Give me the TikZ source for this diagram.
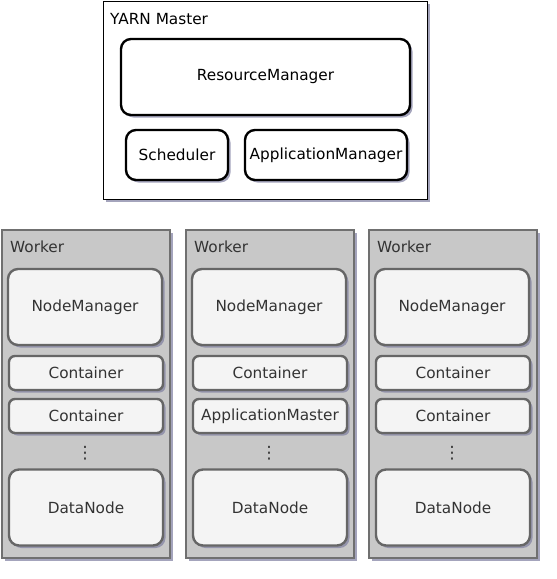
\documentclass[tikz,border=0pt]{standalone}
\usepackage{fontspec}
\setmainfont{DejaVu Sans}
\usepackage{xcolor}
\usepackage{tikz}
\usetikzlibrary{shadows}
\usetikzlibrary{shapes,positioning}

\definecolor{workergray}{HTML}{C8C8C8}
\definecolor{workerline}{HTML}{707070}
\definecolor{boxline}{HTML}{666666}
\definecolor{boxfill}{HTML}{F4F4F4}
\definecolor{textgray}{HTML}{333333}
\definecolor{shadowblue}{HTML}{7E7EA0}

\tikzset{
    yshadow/.style={drop shadow={shadow xshift=2.5pt, shadow yshift=-2.5pt, fill=shadowblue, opacity=.7}},
    masterbox/.style={draw=black, line width=1.3pt, fill=white, yshadow},
    masterpart/.style={draw=black, line width=2.4pt, fill=white, rounded corners=10pt,
        yshadow, font=\fontsize{15.3}{18}\selectfont},
    workerbox/.style={draw=workerline, line width=1.3pt, fill=workergray, yshadow,
        minimum width=168pt, minimum height=328pt},
    workerbig/.style={draw=boxline, line width=2.4pt, fill=boxfill, rounded corners=10pt,
        yshadow, text=textgray, minimum width=154pt, minimum height=76pt,
        font=\fontsize{15.3}{18}\selectfont},
    workersmall/.style={draw=boxline, line width=2.4pt, fill=boxfill, rounded corners=6pt,
        yshadow, text=textgray, minimum width=154pt, minimum height=34pt, inner sep=0pt,
        font=\fontsize{15.3}{18}\selectfont},
    boxtitle/.style={anchor=west, inner sep=0pt, font=\fontsize{15.3}{18}\selectfont},
}

\begin{document}
\begin{tikzpicture}[x=1pt, y=-1pt]
        \useasboundingbox (0,0) rectangle (557,579);

        % master
        \node[masterbox, minimum width=324pt, minimum height=198pt] (master) at (265.5,100.5) {};
        \node[boxtitle] (mastertitle) at (110,19) {YARN Master};
        \node[masterpart, minimum width=289pt, minimum height=76pt] (rm) at (265.5,77) {ResourceManager};
        \node[masterpart, minimum width=102pt, minimum height=50pt] (sched) at (177,155) {Scheduler};
        \node[masterpart, minimum width=162pt, minimum height=50pt, inner sep=0pt] (appmgr) at (326,155) {ApplicationManager};

        % workers
        \foreach \wx/\wlab [count=\i] in {1/Container, 185/ApplicationMaster, 368/Container} {
            \node[workerbox] (worker\i) at (\wx+85,394) {};
            \node[boxtitle, text=textgray] (workertitle\i) at (\wx+9,247) {Worker};
            \node[workerbig] (nm\i) at (\wx+84,307) {NodeManager};
            \node[workersmall] (conta\i) at (\wx+85,373) {Container};
            \node[workersmall] (contb\i) at (\wx+85,416) {\wlab};
            \node[text=textgray, inner sep=0pt, font=\fontsize{17}{18}\selectfont] (dots\i) at (\wx+84,453) {⋮};
            \node[workerbig] (dn\i) at (\wx+85,507.5) {DataNode};
        }
    \end{tikzpicture}
\end{document}
